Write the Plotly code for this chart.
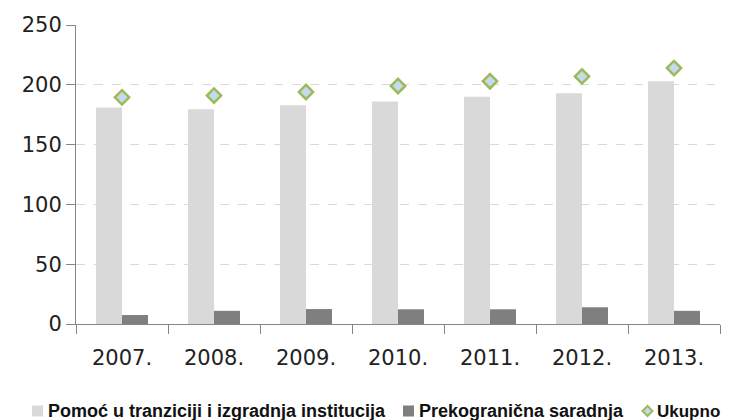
import plotly.graph_objects as go

years = ["2007.", "2008.", "2009.", "2010.", "2011.", "2012.", "2013."]
pomoc = [181, 179.5, 183, 186, 190, 193, 203]
prekogranicna = [7.5, 11, 12.5, 12.3, 12.3, 14, 11]
ukupno = [189.5, 191, 194, 199, 203, 207, 214]
names = ["Pomoć u tranziciji i izgradnja institucija", "Prekogranična saradnja", "Ukupno"]

C_LIGHT, C_DARK, C_FILL, C_GREEN = "#d9d9d9", "#7f7f7f", "#c6d9f1", "#9bbb59"

fig = go.Figure()
fig.add_trace(go.Bar(x=years, y=pomoc, name=names[0],
                     marker=dict(color=C_LIGHT, line=dict(width=0))))
fig.add_trace(go.Bar(x=years, y=prekogranicna, name=names[1],
                     marker=dict(color=C_DARK, line=dict(width=0))))
fig.add_trace(go.Scatter(x=years, y=ukupno, name=names[2], mode="markers",
                         marker=dict(symbol="diamond", size=11, color=C_FILL,
                                     line=dict(color=C_GREEN, width=2.5))))

# layout geometry (page body has an 8px default margin; offsets compensate)
W, H = 729, 420
ML, MR, MT, MB = 68, 17, 17, 104
PW, PH = W - ML - MR, H - MT - MB
OFF = 8

def px(sx):
    return (sx - OFF - ML) / PW

def py(sy):
    return (MT + PH - (sy - OFF)) / PH

# manual legend (matches the compact spacing of the original)
ly = 411
shapes = [
    dict(type="rect", xref="paper", yref="paper", x0=px(32), x1=px(43),
         y0=py(ly + 5.5), y1=py(ly - 5.5), fillcolor=C_LIGHT, line=dict(width=0)),
    dict(type="rect", xref="paper", yref="paper", x0=px(403), x1=px(414),
         y0=py(ly + 5.5), y1=py(ly - 5.5), fillcolor=C_DARK, line=dict(width=0)),
    dict(type="path", xref="paper", yref="paper",
         path=f"M {px(642.5)} {py(ly)} L {px(647.5)} {py(ly - 5)} L {px(652.5)} {py(ly)} "
              f"L {px(647.5)} {py(ly + 5)} Z",
         fillcolor=C_FILL, line=dict(color=C_GREEN, width=2)),
]
ann_font = dict(family="Liberation Sans", size=18, color="#111111", weight="bold")
annotations = [
    dict(text=names[0], xref="paper", yref="paper", x=px(46), y=py(ly),
         xanchor="left", yanchor="middle", showarrow=False, font=ann_font),
    dict(text=names[1], xref="paper", yref="paper", x=px(417), y=py(ly),
         xanchor="left", yanchor="middle", showarrow=False, font=ann_font),
    dict(text=names[2], xref="paper", yref="paper", x=px(655), y=py(ly),
         xanchor="left", yanchor="middle", showarrow=False,
         font=dict(ann_font, size=17)),
]

fig.update_layout(
    width=W, height=H,
    margin=dict(l=ML, r=MR, t=MT, b=MB, autoexpand=False),
    paper_bgcolor="white", plot_bgcolor="white",
    barmode="group", bargap=0.435, bargroupgap=0,
    font=dict(family="DejaVu Sans", color="#222222"),
    showlegend=False,
    shapes=shapes, annotations=annotations,
)
fig.update_yaxes(range=[0, 250], dtick=50, showgrid=True, gridcolor="#d9d9d9",
                 griddash="dash", gridwidth=1, automargin=False,
                 showline=True, linecolor="#868686", linewidth=1,
                 ticks="outside", ticklen=9, tickcolor="#868686",
                 tickfont=dict(size=21, color="#222222"), ticklabelstandoff=0,
                 zeroline=False)
fig.update_xaxes(showline=True, linecolor="#868686", linewidth=1, automargin=False,
                 ticks="outside", ticklen=9, tickcolor="#868686", tickson="boundaries",
                 tickfont=dict(size=21, color="#222222"), ticklabelstandoff=15)

fig.write_html("out.html")
